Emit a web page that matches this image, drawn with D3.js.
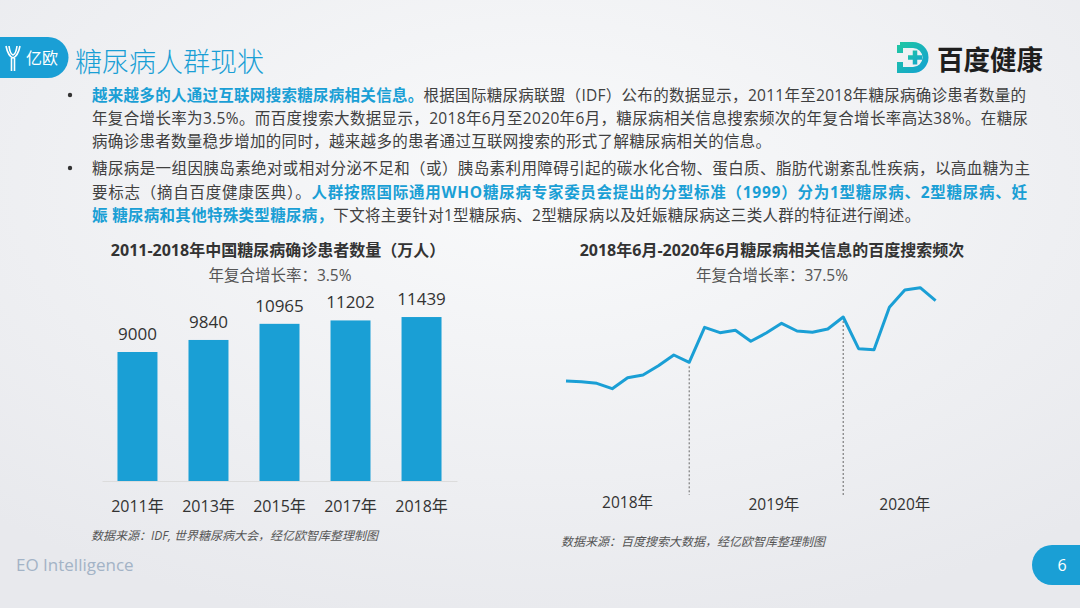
<!DOCTYPE html>
<html>
<head>
<meta charset="utf-8">
<script src="https://cdn.jsdelivr.net/npm/d3@7"></script>
<style>
  body { margin: 0; background: #eceef1; }
  svg text { font-family: "Open Sans", "Noto Sans CJK SC", sans-serif; }
</style>
</head>
<body>
<div id="slide"></div>
<script>
//bar chart data
var barYears = ["2011年", "2013年", "2015年", "2017年", "2018年"];
var barValues = [9000, 9840, 10965, 11202, 11439];

//line chart data (search index)
var searchValues = [39, 38.3, 36.7, 31.3, 42.3, 45, 54.3, 65, 57.7, 92.7, 87.3, 89.7, 78.7,
  87, 96.7, 89, 87.7, 91, 103, 71.3, 70.3, 112.7, 130, 132.3, 119.3];
var yearBreaks = [8, 18];
var yearLabels = ["2018年", "2019年", "2020年"];
var yearLabelAt = [4, 13.5, 22];

var blue = "#1a9fd5";
var textColor = "#404040";

var svg = d3.select("#slide")
  .append("svg")
  .attr("width", 1080)
  .attr("height", 608);

//background
var defs = svg.append("defs");
var bg = defs.append("radialGradient").attr("id", "bg")
  .attr("cx", "50%").attr("cy", "30%").attr("r", "75%");
bg.append("stop").attr("offset", "0%").attr("stop-color", "#f9fafb");
bg.append("stop").attr("offset", "100%").attr("stop-color", "#e8e9ed");
var logoGrad = defs.append("linearGradient").attr("id", "logoGrad")
  .attr("x1", "0%").attr("y1", "0%").attr("x2", "100%").attr("y2", "100%");
logoGrad.append("stop").attr("offset", "0%").attr("stop-color", "#1fc4a6");
logoGrad.append("stop").attr("offset", "100%").attr("stop-color", "#14a3cf");

svg.append("rect").attr("width", 1080).attr("height", 608).attr("fill", "url(#bg)");

//header pill with yiou logo
svg.append("path")
  .attr("d", "M0,37 H48 A20.5,20.5 0 0 1 48,78 H0 Z")
  .attr("fill", blue);
var ylogo = svg.append("g").attr("fill", "none").attr("stroke", "#fff").attr("stroke-width", 1.6);
ylogo.append("path").attr("d", "M6,46 Q8,56 13,58 Q18,56 20,46");
ylogo.append("path").attr("d", "M9,46 Q10,54 13,55 Q16,54 17,46");
ylogo.append("path").attr("d", "M11.5,58 V71 M14.5,58 V71");
svg.append("text").attr("x", 26).attr("y", 64).attr("fill", "#fff")
  .attr("font-size", 16).text("亿欧");

svg.append("text")
  .attr("x", 75).attr("y", 72)
  .attr("fill", blue)
  .attr("font-size", 27)
  .attr("font-weight", 300)
  .text("糖尿病人群现状");

//baidu health logo
var blogo = svg.append("g");
blogo.append("path")
  .attr("d", "M900,45 H913 A12.5,12.5 0 0 1 913,70 H900 V62 M900,53 V45")
  .attr("fill", "none").attr("stroke", "url(#logoGrad)").attr("stroke-width", 6);
blogo.append("path")
  .attr("d", "M896,57.5 H904")
  .attr("stroke", "url(#logoGrad)").attr("stroke-width", 5);
blogo.append("path")
  .attr("d", "M908,57.5 H922 M915,50.5 V64.5")
  .attr("stroke", "url(#logoGrad)").attr("stroke-width", 4.5);
svg.append("text")
  .attr("x", 937).attr("y", 70)
  .attr("font-size", 27).attr("font-weight", 700)
  .attr("fill", "#1e1e1e")
  .attr("textLength", 106).attr("lengthAdjust", "spacingAndGlyphs")
  .text("百度健康");

//bullet paragraphs
var lines = [
  { y: 101, full: true, parts: [["越来越多的人通过互联网搜索糖尿病相关信息。", true], ["根据国际糖尿病联盟（IDF）公布的数据显示，2011年至2018年糖尿病确诊患者数量的", false]] },
  { y: 124, full: true, parts: [["年复合增长率为3.5%。而百度搜索大数据显示，2018年6月至2020年6月，糖尿病相关信息搜索频次的年复合增长率高达38%。在糖尿", false]] },
  { y: 147, full: false, parts: [["病确诊患者数量稳步增加的同时，越来越多的患者通过互联网搜索的形式了解糖尿病相关的信息。", false]] },
  { y: 174, full: true, parts: [["糖尿病是一组因胰岛素绝对或相对分泌不足和（或）胰岛素利用障碍引起的碳水化合物、蛋白质、脂肪代谢紊乱性疾病，以高血糖为主", false]] },
  { y: 198, full: true, parts: [["要标志（摘自百度健康医典）。", false], ["人群按照国际通用WHO糖尿病专家委员会提出的分型标准（1999）分为1型糖尿病、2型糖尿病、妊", true]] },
  { y: 221, full: false, parts: [["娠 糖尿病和其他特殊类型糖尿病，", true], ["下文将主要针对1型糖尿病、2型糖尿病以及妊娠糖尿病这三类人群的特征进行阐述。", false]] }
];
var lineWidths = { 0: 934, 1: 936, 3: 938, 4: 935 };

lines.forEach(function(line, i) {
  var t = svg.append("text")
    .attr("x", 92).attr("y", line.y)
    .attr("font-size", 15.5)
    .attr("fill", textColor);
  if (line.full) {
    t.attr("textLength", lineWidths[i]).attr("lengthAdjust", "spacing");
  } else {
    t.attr("letter-spacing", 0.3);
  }
  line.parts.forEach(function(p) {
    t.append("tspan")
      .attr("fill", p[1] ? blue : textColor)
      .attr("font-weight", p[1] ? 700 : 400)
      .text(p[0]);
  });
});
svg.selectAll(".bullet")
  .data([95, 168])
  .enter()
  .append("circle")
  .attr("class", "bullet")
  .attr("cx", 70).attr("cy", function(d) { return d; })
  .attr("r", 2.2).attr("fill", "#333");

//----- bar chart -----
var xBar = d3.scaleBand()
  .domain(barYears)
  .range([102, 457])
  .paddingInner(0.437)
  .paddingOuter(0.218);

var yBar = d3.scaleLinear()
  .domain([0, 12000])
  .range([481, 309]);

svg.append("text")
  .attr("x", 278).attr("y", 256)
  .attr("text-anchor", "middle")
  .attr("font-size", 16).attr("font-weight", 700)
  .attr("fill", "#333")
  .text("2011-2018年中国糖尿病确诊患者数量（万人）");
svg.append("text")
  .attr("x", 280).attr("y", 281)
  .attr("text-anchor", "middle")
  .attr("font-size", 15.5)
  .attr("fill", "#555")
  .text("年复合增长率：3.5%");

svg.selectAll(".bar")
  .data(barValues)
  .enter()
  .append("rect")
  .attr("class", "bar")
  .attr("x", function(d, i) { return xBar(barYears[i]); })
  .attr("y", function(d) { return yBar(d); })
  .attr("width", xBar.bandwidth())
  .attr("height", function(d) { return yBar(0) - yBar(d); })
  .attr("fill", blue);

svg.selectAll(".barLabel")
  .data(barValues)
  .enter()
  .append("text")
  .attr("class", "barLabel")
  .attr("x", function(d, i) { return xBar(barYears[i]) + xBar.bandwidth() / 2; })
  .attr("y", function(d) { return yBar(d) - 12; })
  .attr("text-anchor", "middle")
  .attr("font-size", 17)
  .attr("fill", "#333")
  .text(function(d) { return d; });

var barAxis = svg.append("g")
  .attr("transform", "translate(0,481)")
  .call(d3.axisBottom(xBar).tickSize(0).tickPadding(20));
barAxis.select(".domain").attr("stroke", "#dcdcdc");
barAxis.selectAll("text")
  .attr("font-size", 16)
  .attr("fill", "#333")
  .style("font-family", "'Open Sans', 'Noto Sans CJK SC', sans-serif");

svg.append("text")
  .attr("x", 91).attr("y", 540)
  .attr("font-size", 12)
  .attr("font-style", "italic")
  .attr("fill", "#555")
  .text("数据来源：IDF, 世界糖尿病大会，经亿欧智库整理制图");

//----- line chart -----
var xLine = d3.scaleLinear()
  .domain([0, searchValues.length - 1])
  .range([566, 935.6]);

var yLine = d3.scaleLinear()
  .domain([0, 140])
  .range([420, 280]);

svg.append("text")
  .attr("x", 772).attr("y", 256)
  .attr("text-anchor", "middle")
  .attr("font-size", 16).attr("font-weight", 700)
  .attr("fill", "#333")
  .text("2018年6月-2020年6月糖尿病相关信息的百度搜索频次");
svg.append("text")
  .attr("x", 772).attr("y", 281)
  .attr("text-anchor", "middle")
  .attr("font-size", 15.5)
  .attr("fill", "#555")
  .text("年复合增长率：37.5%");

svg.selectAll(".yearBreak")
  .data(yearBreaks)
  .enter()
  .append("line")
  .attr("class", "yearBreak")
  .attr("x1", function(d) { return xLine(d); })
  .attr("x2", function(d) { return xLine(d); })
  .attr("y1", function(d) { return yLine(searchValues[d]) + 4; })
  .attr("y2", 495)
  .attr("stroke", "#666")
  .attr("stroke-width", 1)
  .attr("stroke-dasharray", "2,2");

var line = d3.line()
  .x(function(d, i) { return xLine(i); })
  .y(function(d) { return yLine(d); });

svg.append("path")
  .datum(searchValues)
  .attr("d", line)
  .attr("fill", "none")
  .attr("stroke", blue)
  .attr("stroke-width", 3)
  .attr("stroke-linejoin", "round");

svg.selectAll(".yearLabel")
  .data(yearLabels)
  .enter()
  .append("text")
  .attr("class", "yearLabel")
  .attr("x", function(d, i) { return xLine(yearLabelAt[i]); })
  .attr("y", function(d, i) { return i == 0 ? 508 : 510; })
  .attr("text-anchor", "middle")
  .attr("font-size", 15.5)
  .attr("fill", "#333")
  .text(function(d) { return d; });

svg.append("text")
  .attr("x", 561).attr("y", 546)
  .attr("font-size", 12)
  .attr("font-style", "italic")
  .attr("fill", "#555")
  .text("数据来源：百度搜索大数据，经亿欧智库整理制图");

//footer
svg.append("text")
  .attr("x", 16).attr("y", 571)
  .attr("font-size", 17)
  .attr("fill", "#a3b3c6")
  .text("EO Intelligence");

svg.append("path")
  .attr("d", "M1080,545 H1052 A20,20 0 0 0 1052,585 H1080 Z")
  .attr("fill", blue);
svg.append("text")
  .attr("x", 1062).attr("y", 571)
  .attr("text-anchor", "middle")
  .attr("font-size", 16)
  .attr("fill", "#fff")
  .text("6");
</script>
</body>
</html>
